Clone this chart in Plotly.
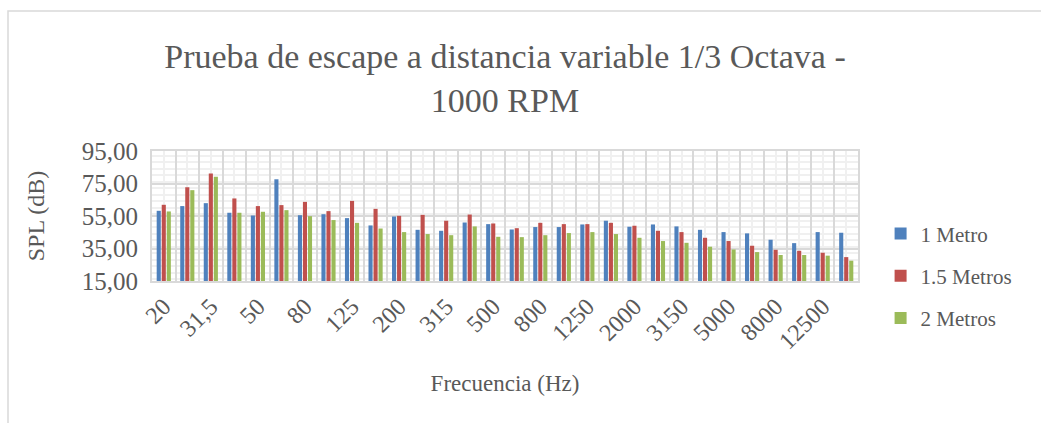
import plotly.graph_objects as go

freqs = ["20", "25", "31,5", "40", "50", "63", "80", "100", "125", "160",
         "200", "250", "315", "400", "500", "630", "800", "1000", "1250", "1600",
         "2000", "2500", "3150", "4000", "5000", "6300", "8000", "10000", "12500", "16000"]
tick_labels = freqs[::2]

metro_1 = [58.2, 61.1, 62.9, 57.0, 55.3, 77.6, 55.5, 56.1, 53.7, 49.2,
           54.7, 46.5, 45.9, 51.0, 50.0, 46.7, 48.2, 48.2, 49.8, 52.1,
           48.4, 49.8, 48.6, 46.5, 45.1, 44.3, 40.4, 38.3, 45.1, 44.7]
metros_15 = [61.9, 72.7, 81.1, 65.8, 61.1, 61.7, 63.7, 58.0, 64.3, 59.4,
             55.1, 55.7, 52.1, 55.9, 50.4, 47.5, 50.8, 50.0, 50.0, 50.8,
             49.0, 45.9, 45.1, 41.6, 39.6, 36.7, 34.2, 33.6, 32.4, 29.7]
metros_2 = [57.8, 70.9, 79.1, 57.0, 57.6, 58.6, 54.9, 52.5, 50.8, 47.3,
            45.1, 43.9, 43.2, 48.6, 42.2, 42.0, 43.2, 44.5, 45.1, 43.9,
            41.6, 39.6, 38.5, 36.1, 34.4, 32.8, 31.0, 31.0, 30.6, 27.5]

series = [("1 Metro", metro_1, "#4F81BD"),
          ("1.5 Metros", metros_15, "#C0504D"),
          ("2 Metros", metros_2, "#9BBB59")]

FONT = "Liberation Serif, Times New Roman, serif"
TXT = "#595959"
GRID = "#d9d9d9"
MINOR = "#f0f0f0"

fig = go.Figure()
# empty helper trace so that the grid-only overlay axis is created
fig.add_trace(go.Scatter(x=[], y=[], xaxis="x2", yaxis="y", showlegend=False,
                         hoverinfo="skip"))
for name, vals, col in series:
    fig.add_trace(go.Bar(x=freqs, y=vals, name=name, marker_color=col,
                         marker_line_width=0, legendgroup=name))

W, H = 1041, 423
ml, mr, mt, mb = 152, 183, 151, 142
pw, ph = W - ml - mr, H - mt - mb

fig.update_layout(
    width=W, height=H,
    margin=dict(l=ml, r=mr, t=mt, b=mb),
    paper_bgcolor="white", plot_bgcolor="white",
    barmode="group", bargap=0.36, bargroupgap=0.18,
    separators=",.",
    font=dict(family=FONT, color=TXT, size=22),
    title=dict(text="Prueba de escape a distancia variable 1/3 Octava -<br>1000 RPM",
               x=0.5, xref="paper", xanchor="center",
               y=0.84, yref="container", yanchor="bottom",
               font=dict(family=FONT, size=34, color=TXT)),
    xaxis=dict(type="category", categoryorder="array", categoryarray=freqs,
               tickmode="array", tickvals=tick_labels, ticktext=tick_labels,
               tickangle=-45, showgrid=False, ticks="",
               tickfont=dict(size=24, color=TXT),
               range=[-0.5, len(freqs) - 0.5],
               showline=True, linecolor=GRID, linewidth=2, mirror=True,
               title=dict(text="Frecuencia (Hz)", font=dict(size=23, color=TXT), standoff=22)),
    xaxis2=dict(overlaying="x", anchor="y", type="linear",
                range=[-0.5, len(freqs) - 0.5], tick0=-0.5, dtick=1,
                showgrid=True, gridcolor=GRID, gridwidth=1.5,
                showticklabels=False, ticks="", zeroline=False, showline=False,
                minor=dict(tick0=0, dtick=0.5, showgrid=True, gridcolor=MINOR, gridwidth=1.5)),
    yaxis=dict(range=[15, 95], tick0=15, dtick=20, tickformat=".2f",
               showgrid=True, gridcolor=GRID, gridwidth=1.5, zeroline=False,
               minor=dict(dtick=4, showgrid=True, gridcolor=MINOR, gridwidth=1.5),
               ticks="", tickfont=dict(size=25, color=TXT), ticklabelstandoff=7,
               showline=True, linecolor=GRID, linewidth=2, mirror=True,
               title=dict(text="SPL (dB)", font=dict(size=24, color=TXT), standoff=30)),
    legend=dict(x=1.032, xanchor="left", y=0.04, yanchor="middle",
                font=dict(size=21, color=TXT), traceorder="grouped",
                tracegroupgap=12, bgcolor="rgba(0,0,0,0)"),
    shapes=[dict(type="rect", xref="paper", yref="paper",
                 x0=(8 - ml) / pw, x1=(W + 10 - ml) / pw,
                 y0=(-(H + 10) + (H - mb)) / ph, y1=((H - mb) - 11) / ph,
                 line=dict(color=GRID, width=1.5), fillcolor="rgba(0,0,0,0)", layer="below")],
)

fig.write_html("out.html")
